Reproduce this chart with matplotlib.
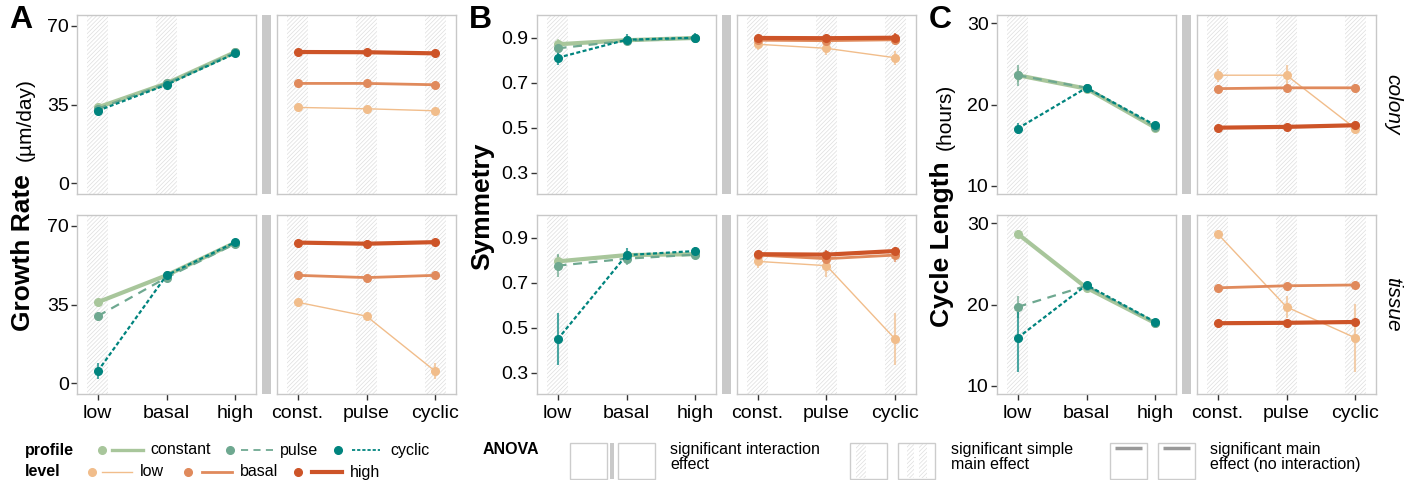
import numpy as np
import matplotlib
matplotlib.use('Agg')
import matplotlib.pyplot as plt
from matplotlib.patches import Rectangle

plt.rcParams['font.family'] = ['Liberation Sans', 'DejaVu Sans']
plt.rcParams['hatch.linewidth'] = 0.5
plt.rcParams['hatch.color'] = '#dedede'

# categories
levels = ['low', 'basal', 'high']
profiles = ['constant', 'pulse', 'cyclic']
profile_ticks = ['const.', 'pulse', 'cyclic']
rows = ['colony', 'tissue']

# values: rows = profile (constant, pulse, cyclic), cols = level (low, basal, high)
growth_colony = [[33.7, 44.4, 58.4], [33.1, 44.4, 58.3], [32.2, 43.8, 57.8]]
growth_colony_err = [[0.8, 0.8, 0.8], [0.8, 0.8, 0.8], [0.8, 0.8, 0.8]]
growth_tissue = [[36.0, 48.0, 62.6], [29.8, 47.0, 62.1], [5.2, 48.0, 62.8]]
growth_tissue_err = [[0.8, 1.0, 1.5], [2.0, 1.0, 1.5], [3.5, 1.0, 1.5]]

sym_colony = [[0.870, 0.888, 0.898], [0.852, 0.886, 0.897], [0.810, 0.890, 0.899]]
sym_colony_err = [[0.025, 0.02, 0.015], [0.03, 0.02, 0.015], [0.03, 0.025, 0.02]]
sym_tissue = [[0.794, 0.822, 0.826], [0.775, 0.806, 0.824], [0.448, 0.822, 0.840]]
sym_tissue_err = [[0.03, 0.02, 0.015], [0.05, 0.03, 0.02], [0.115, 0.03, 0.02]]

cycle_colony = [[23.6, 21.95, 17.15], [23.6, 22.05, 17.25], [17.05, 22.05, 17.45]]
cycle_colony_err = [[0.8, 0.3, 0.2], [1.3, 0.3, 0.2], [0.7, 0.5, 0.2]]
cycle_tissue = [[28.7, 22.05, 17.7], [19.7, 22.3, 17.75], [15.9, 22.4, 17.85]]
cycle_tissue_err = [[0.4, 0.3, 0.2], [1.35, 0.3, 0.2], [4.2, 0.4, 0.2]]

# significant simple main effects (hatched bands) in the level panel
growth_bands = [['low', 'basal'], ['low']]
sym_bands = [['low'], ['low']]
cycle_bands = [['low'], ['low']]

profile_colors = ['#a8c69b', '#6ea890', '#00847e']
profile_styles = ['-', (0, (4, 3)), (0, (1.8, 1.1))]
profile_widths = [3.0, 1.6, 1.6]
level_colors = ['#f1bd8b', '#e08a5c', '#cd5428']
level_widths = [1.0, 2.0, 3.0]

W, H = 1414, 480
fig = plt.figure(figsize=(W / 100, H / 100), dpi=100)


def px_axes(x0, y0, x1, y1):
    return fig.add_axes([x0 / W, 1 - y1 / H, (x1 - x0) / W, (y1 - y0) / H])


def style_axes(ax, ylim, yticks, yfmt, show_y, xlabels):
    ax.set_xlim(0.7, 3.3)
    ax.set_ylim(*ylim)
    for s in ax.spines.values():
        s.set_color('#c8c8c8')
        s.set_linewidth(1.0)
    if show_y:
        ax.set_yticks(yticks)
        ax.set_yticklabels([yfmt.format(v) for v in yticks])
    else:
        ax.set_yticks([])
    if xlabels:
        ax.set_xticks([1, 2, 3])
        ax.set_xticklabels(xlabels)
    else:
        ax.set_xticks([])
    ax.tick_params(axis='y', length=4.5, width=1, color='#333333', labelsize=14, pad=1.5)
    ax.tick_params(axis='x', length=4, width=1, color='#333333', labelsize=14, pad=4)


def bands(ax, xs):
    for x in xs:
        ax.axvspan(x - 0.15, x + 0.15, facecolor='none', edgecolor='#dedede',
                   hatch='////////', linewidth=0, zorder=0)


panels = [
    dict(letter='A', x0=77, data=[growth_colony, growth_tissue],
         err=[growth_colony_err, growth_tissue_err], ylim=(-4.9, 74.9),
         yticks=[0, 35, 70], yfmt='{:g}', bands=growth_bands),
    dict(letter='B', x0=537, data=[sym_colony, sym_tissue],
         err=[sym_colony_err, sym_tissue_err], ylim=(0.205, 1.0),
         yticks=[0.3, 0.5, 0.7, 0.9], yfmt='{:.1f}', bands=sym_bands),
    dict(letter='C', x0=997, data=[cycle_colony, cycle_tissue],
         err=[cycle_colony_err, cycle_tissue_err], ylim=(9.0, 31.0),
         yticks=[10, 20, 30], yfmt='{:g}', bands=cycle_bands),
]
row_y = [(15, 194), (215, 394)]
xpos = np.array([1, 2, 3])

for p in panels:
    x0 = p['x0']
    for r, (y0, y1) in enumerate(row_y):
        d = np.array(p['data'][r])
        e = np.array(p['err'][r])
        bottom = r == 1

        # left: x = level, lines = profile
        axl = px_axes(x0, y0, x0 + 179, y1)
        bands(axl, [levels.index(b) + 1 for b in p['bands'][r]])
        for i in range(3):
            axl.vlines(xpos, d[i] - e[i], d[i] + e[i], color=profile_colors[i],
                       lw=1.5, alpha=0.7, zorder=2)
            axl.plot(xpos, d[i], color=profile_colors[i], ls=profile_styles[i],
                     lw=profile_widths[i], marker='o', ms=5.5, zorder=3 + i)
        style_axes(axl, p['ylim'], p['yticks'], p['yfmt'], True,
                   levels if bottom else None)

        # right: x = profile, lines = level
        axr = px_axes(x0 + 200, y0, x0 + 379, y1)
        bands(axr, [1, 2, 3])
        for j in range(3):
            axr.vlines(xpos, d[:, j] - e[:, j], d[:, j] + e[:, j],
                       color=level_colors[j], lw=1.5, alpha=0.7, zorder=2)
            axr.plot(xpos, d[:, j], color=level_colors[j], lw=level_widths[j],
                     marker='o', ms=5.5, zorder=3 + j)
        style_axes(axr, p['ylim'], p['yticks'], p['yfmt'], False,
                   profile_ticks if bottom else None)

        # grey separator
        fig.add_artist(Rectangle(((x0 + 185) / W, 1 - y1 / H), 9 / W, (y1 - y0) / H,
                                 transform=fig.transFigure, color='#c9c9c9', lw=0))

    fig.text((x0 - 68) / W, 1 - 20 / H, p['letter'], fontsize=23, fontweight='bold',
             ha='left', va='center')

# y axis titles
fig.text(23 / W, 1 - 331 / H, 'Growth Rate', rotation=90, fontsize=19,
         fontweight='bold', ha='center', va='bottom')
fig.text(25 / W, 1 - 78 / H, '(µm/day)', rotation=90, fontsize=15,
         ha='center', va='top')
fig.text(482 / W, 1 - 206 / H, 'Symmetry', rotation=90, fontsize=19,
         fontweight='bold', ha='center', va='center')
fig.text(942 / W, 1 - 327 / H, 'Cycle Length', rotation=90, fontsize=19,
         fontweight='bold', ha='center', va='bottom')
fig.text(945 / W, 1 - 84 / H, '(hours)', rotation=90, fontsize=15,
         ha='center', va='top')

# facet strip labels
for r, (y0, y1) in enumerate(row_y):
    fig.text(1393 / W, 1 - (y0 + y1) / 2 / H, rows[r], rotation=-90, fontsize=15,
             style='italic', ha='center', va='center')

# legend
lg = fig.add_axes([0, 0, 1, 1])
lg.set_xlim(0, W)
lg.set_ylim(H, 0)
lg.axis('off')
lg.patch.set_alpha(0)

fs = 11.5
lg.text(25, 450, 'profile', fontsize=fs, fontweight='bold', va='center')
lg.text(25, 472, 'level', fontsize=fs, fontweight='bold', va='center')
prof_keys = [(102, 112, 143, 150), (230, 241, 273, 280), (338, 352, 380, 390)]
for i, (mx, l0, l1, tx) in enumerate(prof_keys):
    lg.plot([mx], [450], 'o', color=profile_colors[i], ms=5.5)
    lg.plot([l0, l1], [450, 450], color=profile_colors[i], ls=profile_styles[i],
            lw=profile_widths[i] * 0.8)
    lg.text(tx, 450, profiles[i], fontsize=fs, va='center')
lev_keys = [(92, 102, 132, 140), (188, 202, 232, 240), (298, 312, 342, 350)]
for j, (mx, l0, l1, tx) in enumerate(lev_keys):
    lg.plot([mx], [472], 'o', color=level_colors[j], ms=5.5)
    lg.plot([l0, l1], [472, 472], color=level_colors[j], lw=level_widths[j])
    lg.text(tx, 472, levels[j], fontsize=fs, va='center')

lg.text(483, 450, 'ANOVA', fontsize=fs, fontweight='bold', va='center')


def key_box(x):
    lg.add_patch(Rectangle((x, 443), 37, 36, facecolor='white', edgecolor='#cccccc', lw=1))


for x in [570, 618, 850, 898, 1110, 1158]:
    key_box(x)
lg.add_patch(Rectangle((610, 443), 4, 36, color='#c9c9c9', lw=0))
for bx0, bx1 in [(856, 866), (907, 914), (919, 927)]:
    lg.add_patch(Rectangle((bx0, 444), bx1 - bx0, 34, facecolor='none',
                           edgecolor='#dedede', hatch='////////', lw=0))
for x in [1110, 1158]:
    lg.plot([x + 5, x + 32], [448, 448], color='#999999', lw=2.5, solid_capstyle='butt')

for tx, txt in [(670, 'significant interaction\neffect'),
                (951, 'significant simple\nmain effect'),
                (1210, 'significant main\neffect (no interaction)')]:
    lg.text(tx, 457, txt, fontsize=fs, va='center', linespacing=1.0)

fig.savefig('out.png', dpi=100)
